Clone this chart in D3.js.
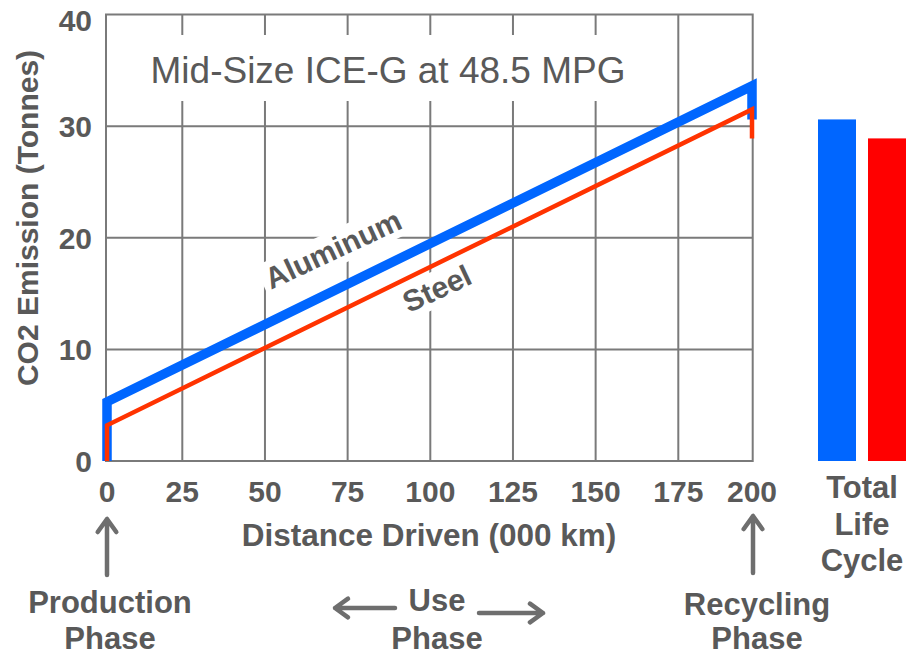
<!DOCTYPE html>
<html>
<head>
<meta charset="utf-8">
<script src="https://cdn.jsdelivr.net/npm/d3@7"></script>
<style>
  body { margin: 0; background: #fff; }
  svg { display: block; font-family: "Liberation Sans", Arial, sans-serif; }
  .lbl { fill: #595959; font-weight: bold; }
</style>
</head>
<body>
<svg id="chart" width="913" height="657"></svg>
<script>
// data
var distance   = [0, 0, 200, 200];          // 000 km
var aluminum   = [0, 5.3, 33.6, 30.6];      // tonnes CO2
var steel      = [0, 3.2, 31.5, 28.9];
var totalNames = ["Aluminum", "Steel"];
var totalVals  = [30.6, 28.9];
var xTicks     = [0, 25, 50, 75, 100, 125, 150, 175, 200];
var yTicks     = [0, 10, 20, 30, 40];

var blue = "#0066ff", redLine = "#ff3300", redBar = "#ff0000";
var grid = "#7a7a7a", txt = "#595959";

var svg = d3.select("#chart");

// the ends of the distance axis sit a bit inside the even grid spacing
var x = d3.scaleLinear().domain([0, 25, 175, 200]).range([107, 182.3, 678.3, 752]);
var y = d3.scaleLinear().domain([0, 40]).range([461, 14.5]);
var xb = d3.scaleBand().domain(totalNames).range([818, 906]).paddingInner(0.24);

//grid + frame
var g = svg.append("g").attr("class", "grid");
g.selectAll("line.v")
  .data(xTicks.filter(function(d) { return d > 0 && d < 200; }))
  .enter().append("line")
  .attr("x1", function(d) { return x(d); }).attr("x2", function(d) { return x(d); })
  .attr("y1", y(40)).attr("y2", y(0))
  .attr("stroke", grid).attr("stroke-width", 2);
g.selectAll("line.h")
  .data(yTicks.filter(function(d) { return d > 0 && d < 40; }))
  .enter().append("line")
  .attr("x1", x(0) - 1).attr("x2", x(200) + 0.7)
  .attr("y1", function(d) { return y(d); }).attr("y2", function(d) { return y(d); })
  .attr("stroke", grid).attr("stroke-width", 2);
g.append("rect")
  .attr("x", x(0) - 1).attr("y", y(40))
  .attr("width", x(200) + 0.7 - x(0) + 1).attr("height", y(0) - y(40))
  .attr("fill", "none").attr("stroke", grid).attr("stroke-width", 2);

// title with white box over grid
var title = svg.append("g");
var tBox = title.append("rect").attr("fill", "#fff");
var tText = title.append("text")
  .attr("x", 388).attr("y", 83)
  .attr("text-anchor", "middle")
  .attr("fill", txt).style("font-size", "37px")
  .text("Mid-Size ICE-G at 48.5 MPG");
var bb = tText.node().getBBox();
tBox.attr("x", bb.x - 12).attr("y", 35).attr("width", bb.width + 24).attr("height", 66);

// lines
var line = d3.line()
  .x(function(d) { return x(d[0]); })
  .y(function(d) { return y(d[1]); });

svg.append("path")
  .datum(d3.zip(distance, aluminum))
  .attr("d", line)
  .attr("fill", "none").attr("stroke", blue)
  .attr("stroke-width", 9.5).attr("stroke-linejoin", "miter");

svg.append("path")
  .datum(d3.zip(distance, steel))
  .attr("d", line)
  .attr("fill", "none").attr("stroke", redLine)
  .attr("stroke-width", 4.5).attr("stroke-linejoin", "miter");

// rotated series labels with white backing
function seriesLabel(name, dx, val, off) {
  var lg = svg.append("g")
    .attr("transform", "translate(" + x(dx) + "," + (y(val) + off) + ") rotate(-25)");
  var r = lg.append("rect").attr("fill", "#fff");
  var t = lg.append("text")
    .attr("class", "lbl")
    .attr("text-anchor", "middle").attr("dy", "0.35em")
    .style("font-size", "30px")
    .text(name);
  var b = t.node().getBBox();
  r.attr("x", b.x - 5).attr("y", b.y - 1).attr("width", b.width + 10).attr("height", b.height + 2);
}
seriesLabel("Aluminum", 70.6, 15.3, -41);
seriesLabel("Steel", 102, 17.6, 24);

// total life cycle bars
svg.selectAll("rect.bar")
  .data(totalVals)
  .enter().append("rect")
  .attr("class", "bar")
  .attr("x", function(d, i) { return xb(totalNames[i]); })
  .attr("width", xb.bandwidth())
  .attr("y", function(d) { return y(d); })
  .attr("height", function(d) { return y(0) - y(d); })
  .attr("fill", function(d, i) { return i === 0 ? blue : redBar; });

// tick labels
svg.selectAll("text.yt")
  .data(yTicks)
  .enter().append("text")
  .attr("class", "lbl")
  .attr("x", 92)
  .attr("y", function(d) { return Math.max(y(d), 20); })
  .attr("dy", "0.36em")
  .attr("text-anchor", "end")
  .style("font-size", "30px")
  .text(function(d) { return d; });

svg.selectAll("text.xt")
  .data(xTicks)
  .enter().append("text")
  .attr("class", "lbl")
  .attr("x", function(d) { return x(d); })
  .attr("y", 502)
  .attr("text-anchor", "middle")
  .style("font-size", "30px")
  .text(function(d) { return d; });

// axis titles
svg.append("text")
  .attr("class", "lbl")
  .attr("transform", "translate(38,218) rotate(-90)")
  .attr("text-anchor", "middle")
  .style("font-size", "30px")
  .text("CO2 Emission (Tonnes)");

svg.append("text")
  .attr("class", "lbl")
  .attr("x", 429).attr("y", 546)
  .attr("text-anchor", "middle")
  .style("font-size", "31.5px")
  .text("Distance Driven (000 km)");

// multi line labels
function block(lines, cx, y0, lh) {
  var t = svg.append("text")
    .attr("class", "lbl")
    .attr("text-anchor", "middle")
    .style("font-size", "31px");
  lines.forEach(function(s, i) {
    t.append("tspan").attr("x", cx).attr("y", y0 + i * lh).text(s);
  });
}
block(["Production", "Phase"], 110, 613, 36);
block(["Use", "Phase"], 437, 611, 38);
block(["Recycling", "Phase"], 757, 615, 34);
block(["Total", "Life", "Cycle"], 862, 498, 36.7);

// phase arrows
var arrowColor = "#6e6e6e";
function arrow(x1, y1, x2, y2) {
  var a = Math.atan2(y2 - y1, x2 - x1), h = 16, w = 0.62;
  svg.append("path")
    .attr("d", "M" + x1 + "," + y1 + "L" + x2 + "," + y2 +
      "M" + (x2 - h * Math.cos(a - w)) + "," + (y2 - h * Math.sin(a - w)) +
      "L" + x2 + "," + y2 +
      "L" + (x2 - h * Math.cos(a + w)) + "," + (y2 - h * Math.sin(a + w)))
    .attr("fill", "none").attr("stroke", arrowColor)
    .attr("stroke-width", 4.5).attr("stroke-linecap", "round").attr("stroke-linejoin", "round");
}
arrow(x(0), 575, x(0), 519);
arrow(x(200) + 1, 573, x(200) + 1, 516);
arrow(395, 608, 335, 608);
arrow(479, 613, 543, 613);
</script>
</body>
</html>
